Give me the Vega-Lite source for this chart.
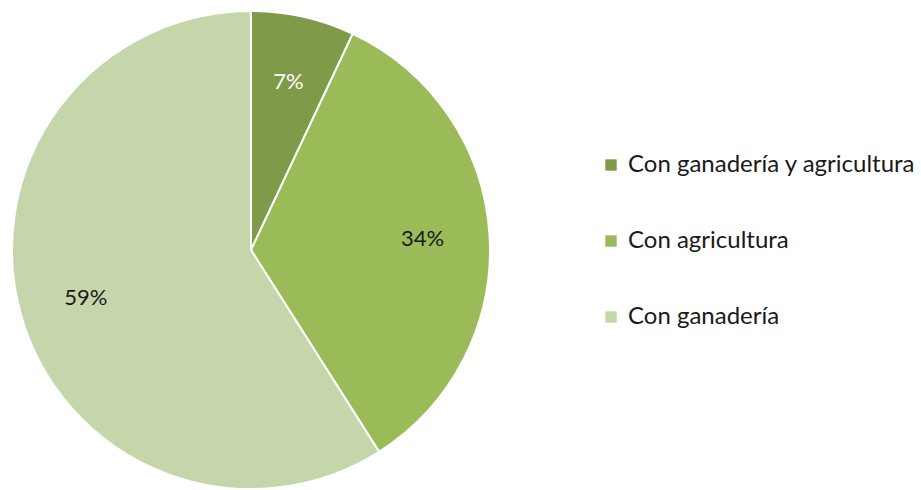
{
  "$schema": "https://vega.github.io/schema/vega-lite/v6.json",
  "width": 502,
  "height": 500,
  "autosize": "none",
  "padding": {"left": 0, "top": 0, "right": 419, "bottom": 0},
  "background": "white",
  "view": {"stroke": null},
  "data": {
    "values": [
      {"cat": "Con ganadería y agricultura", "pct": 7, "label": "7%", "ord": 1},
      {"cat": "\u00a0Con agricultura", "pct": 34, "label": "34%", "ord": 2},
      {"cat": "\u00a0Con ganadería", "pct": 59, "label": "59%", "ord": 3}
    ]
  },
  "encoding": {
    "theta": {"field": "pct", "type": "quantitative", "stack": true},
    "order": {"field": "ord", "type": "quantitative"}
  },
  "layer": [
    {
      "mark": {"type": "arc", "outerRadius": 239, "stroke": "white", "strokeWidth": 2},
      "encoding": {
        "color": {
          "field": "cat",
          "type": "nominal",
          "sort": ["Con ganadería y agricultura", "\u00a0Con agricultura", "\u00a0Con ganadería"],
          "scale": {
            "domain": ["Con ganadería y agricultura", "\u00a0Con agricultura", "\u00a0Con ganadería"],
            "range": ["#7f9a48", "#9bbb59", "#c6d6ab"]
          },
          "legend": {
            "title": null,
            "orient": "none",
            "legendX": 599,
            "legendY": 153,
            "symbolType": "square",
            "symbolSize": 130,
            "symbolStrokeWidth": 0,
            "labelFont": "Lato",
            "labelFontSize": 24,
            "labelColor": "#1a1a1a",
            "labelOffset": 5,
            "rowPadding": 52,
            "labelLimit": 400
          }
        }
      }
    },
    {
      "mark": {"type": "text", "radius": 172, "fontSize": 22, "font": "Lato"},
      "encoding": {
        "text": {"field": "label", "type": "nominal"},
        "color": {
          "condition": {"test": "datum.pct == 7", "value": "white"},
          "value": "#1a1a1a"
        }
      }
    }
  ]
}
